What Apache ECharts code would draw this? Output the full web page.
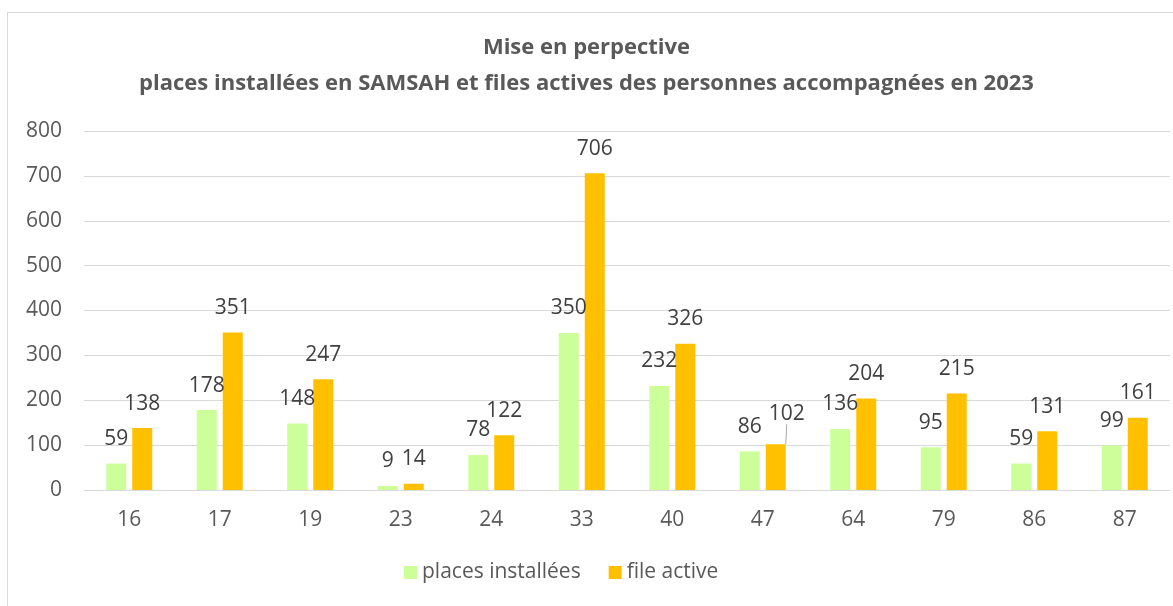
<!DOCTYPE html>
<html>
<head>
<meta charset="utf-8">
<script src="https://cdn.jsdelivr.net/npm/echarts@6/dist/echarts.min.js"></script>
<style>
    body{margin:0;background:#fff;}
    #frame{position:absolute;left:7px;top:12px;width:1170px;height:600px;border:1px solid #d9d9d9;box-sizing:border-box;}
    #chart{position:absolute;left:0;top:0;width:1173px;height:606px;}
</style>
</head>
<body>
<div id="frame"></div>
<div id="chart"></div>
<script>
// départements
var categories = ['16','17','19','23','24','33','40','47','64','79','86','87'];
var placesInstallees = [59, 178, 148, 9, 78, 350, 232, 86, 136, 95, 59, 99];
var fileActive = [138, 351, 247, 14, 122, 706, 326, 102, 204, 215, 131, 161];
var yTicks = [0, 100, 200, 300, 400, 500, 600, 700, 800];

var font = '"Open Sans", sans-serif';
var labelStyle = {
    show: true,
    position: 'top',
    distance: 14,
    fontFamily: font,
    fontSize: 21,
    color: '#404040'
};

// l'étiquette du 47 est décalée dans l'original, avec un trait de rappel
var fileActiveData = fileActive.map(function (v, i) {
    if (categories[i] === '47') {
        return {value: v, labelLine: {show: true, lineStyle: {color: '#a6a6a6', width: 1}}};
    }
    return v;
});

var myChart = echarts.init(document.getElementById('chart'));
myChart.setOption({
    animation: false,
    title: {
        text: 'Mise en perpective\nplaces installées en SAMSAH et files actives des personnes accompagnées en 2023',
        left: 'center',
        top: 25,
        textStyle: {
            fontFamily: font,
            fontSize: 22,
            fontWeight: 'bold',
            color: '#595959',
            lineHeight: 36
        }
    },
    legend: {
        bottom: 18,
        left: 399,
        itemWidth: 13,
        itemHeight: 13,
        itemGap: 28,
        icon: 'rect',
        textStyle: {fontFamily: font, fontSize: 21, color: '#595959'},
        data: ['places installées', 'file active']
    },
    grid: {left: 84, right: 3, top: 131, bottom: 116},
    xAxis: {
        type: 'category',
        data: categories,
        axisLine: {lineStyle: {color: '#d9d9d9'}},
        axisTick: {show: false},
        axisLabel: {fontFamily: font, fontSize: 21, color: '#595959', margin: 20}
    },
    yAxis: {
        type: 'value',
        min: yTicks[0],
        max: yTicks[yTicks.length - 1],
        interval: 100,
        axisLine: {show: false},
        axisTick: {show: false},
        axisLabel: {fontFamily: font, fontSize: 21, color: '#595959', margin: 22},
        splitLine: {lineStyle: {color: '#d9d9d9', width: 1}}
    },
    series: [
        {
            name: 'places installées',
            type: 'bar',
            data: placesInstallees,
            barWidth: 20,
            barGap: '30%',
            itemStyle: {color: '#ccff99'},
            label: labelStyle
        },
        {
            name: 'file active',
            type: 'bar',
            data: fileActiveData,
            barWidth: 20,
            itemStyle: {color: '#ffc000'},
            label: labelStyle,
            labelLine: {show: false},
            labelLayout: function (params) {
                if (params.dataIndex === 7) {
                    return {dx: 11, dy: -6};
                }
                return {};
            }
        }
    ]
});
</script>
</body>
</html>
